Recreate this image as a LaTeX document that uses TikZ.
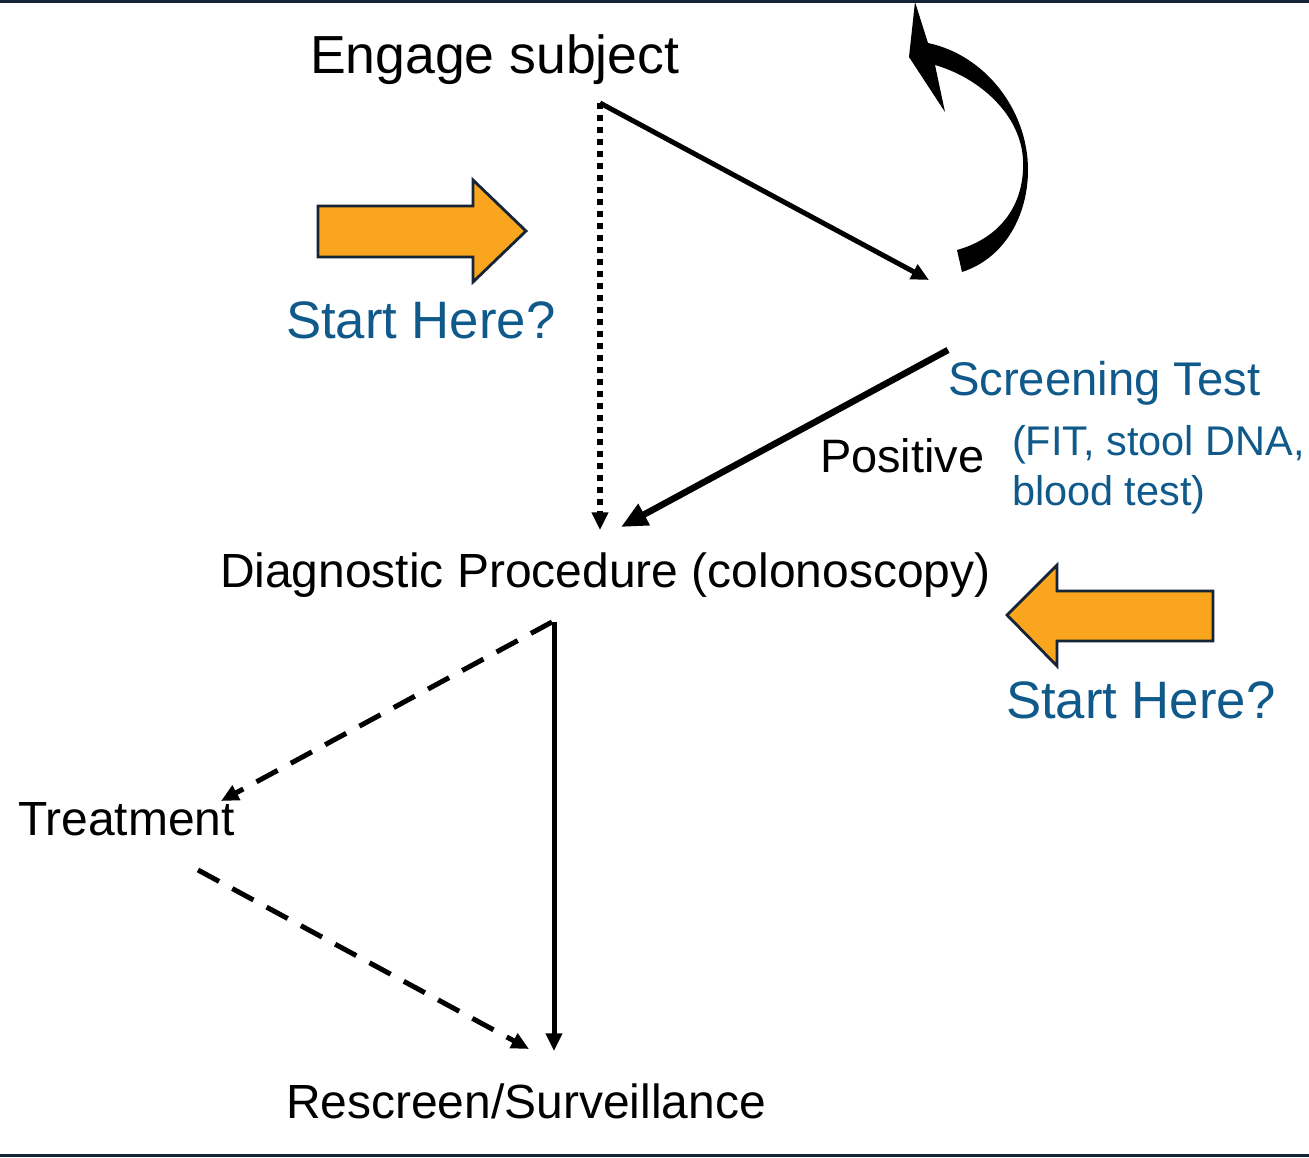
\documentclass[tikz,border=0pt]{standalone}
\usepackage{fontspec}
\setmainfont{Liberation Sans}
\usetikzlibrary{arrows.meta}
\definecolor{navy}{RGB}{22,36,56}
\definecolor{tblue}{RGB}{16,89,139}
\definecolor{orng}{RGB}{249,166,30}
\begin{document}
\begin{tikzpicture}[x=0.02cm,y=-0.02cm,
  lbl/.style={anchor=base west,inner sep=0pt,outer sep=0pt},
  big/.style={lbl,font=\fontsize{27.3}{32}\selectfont},
  bigger/.style={lbl,font=\fontsize{30.5}{36}\selectfont},
  bluebig/.style={lbl,text=tblue,font=\fontsize{30}{35}\selectfont},
  bluemid/.style={lbl,text=tblue,font=\fontsize{26.9}{31}\selectfont},
  bluesmall/.style={lbl,text=tblue,font=\fontsize{23.6}{28}\selectfont},
  conn/.style={line width=0.1cm,-{Triangle[length=10pt,width=9pt]}},
  thickconn/.style={line width=0.13cm,-{Triangle[length=15pt,width=13pt]}},
  dotconn/.style={conn,line width=0.12cm,dash pattern=on 0.12cm off 0.12cm},
  dashconn/.style={conn,dash pattern=on 0.48cm off 0.30cm},
  blockarrow/.style={fill=orng,draw=navy,line width=1.6pt,line join=miter}]
\useasboundingbox (0,0) rectangle (1309,1157);
\fill[white] (0,0) rectangle (1309,1157);
\fill[navy] (0,0) rectangle (1309,2.5);
\fill[navy] (0,1154) rectangle (1309,1157);

% texts
\node[bigger] (engage) at (310,73) {Engage subject};
\node[bluebig] (start1) at (286,338) {Start Here?};
\node[bluemid] (screen) at (948,395) {Screening Test};
\node[bluesmall] (fit) at (1012,455) {(FIT, stool DNA,};
\node[bluesmall] (blood) at (1012,505) {blood test)};
\node[big,font=\fontsize{26.7}{32}\selectfont] (positive) at (820,472) {Positive};
\node[big] (diag) at (220,587) {Diagnostic Procedure (colonoscopy)};
\node[bluebig] (start2) at (1006,718) {Start Here?};
\node[big] (treat) at (18,835) {Treatment};
\node[big] (rescreen) at (286,1118) {Rescreen/Surveillance};

% connector end points
\coordinate (eA) at (600,103);
\coordinate (eB) at (600,530);
\coordinate (sA) at (600,103);
\coordinate (sB) at (929,280);
\coordinate (pA) at (948,350);
\coordinate (pB) at (621,527);
\coordinate (dA) at (554,622);
\coordinate (dB) at (554,1051);
\coordinate (tA) at (552,622);
\coordinate (tB) at (221,801);
\coordinate (rA) at (198,870);
\coordinate (rB) at (529,1049);

\draw[dotconn] (eA) -- (eB);
\draw[conn] (sA) -- (sB);
\draw[thickconn] (pA) -- (pB);
\draw[conn] (dA) -- (dB);
\draw[dashconn] (tA) -- (tB);
\draw[dashconn] (rA) -- (rB);

% orange block arrows
\draw[blockarrow] (318,206) -- (473,206) -- (473,180) -- (526,231) -- (473,282) -- (473,257) -- (318,257) -- cycle;
\draw[blockarrow] (1213,591) -- (1057,591) -- (1057,565) -- (1007,615) -- (1057,666) -- (1057,641) -- (1213,641) -- cycle;

% curved loop arrow
\fill (962,272) .. controls (1005,258) and (1028,215) .. (1028,170)
  .. controls (1028,110) and (985,55) .. (928,43)
  -- (915,2) -- (909,57) -- (945,112) -- (935,65)
  .. controls (980,78) and (1021,115) .. (1023,160)
  .. controls (1025,205) and (1000,238) .. (957,250) -- cycle;
\end{tikzpicture}
\end{document}
